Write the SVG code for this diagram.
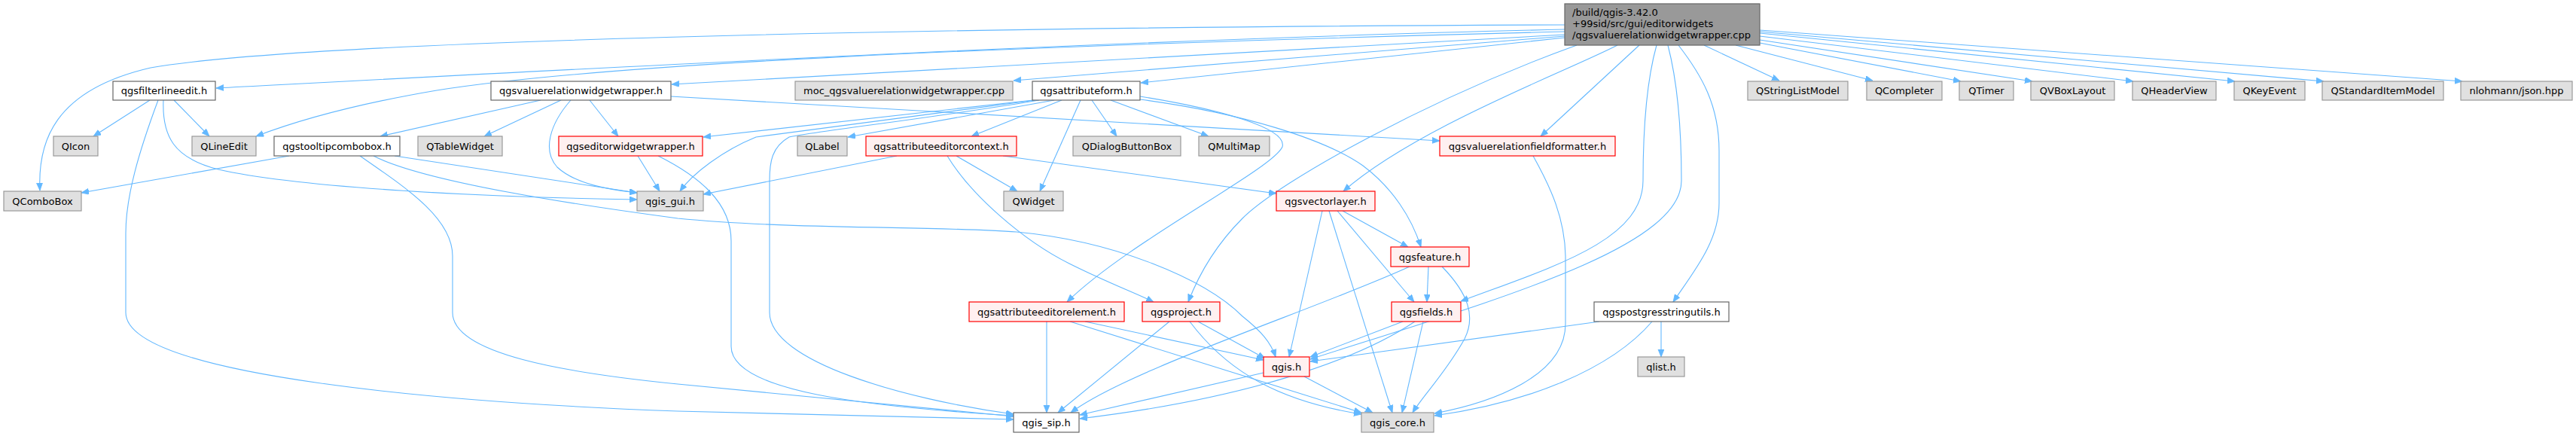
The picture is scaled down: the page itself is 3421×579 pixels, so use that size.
<svg xmlns="http://www.w3.org/2000/svg" width="3421" height="579" viewBox="0 0 3421 579">
<style>
rect{stroke-width:1.2}
.m rect{fill:#999999;stroke:#666666}
.w rect{fill:#ffffff;stroke:#666666}
.g rect{fill:#e0e0e0;stroke:#999999}
.r rect{fill:#fff0f0;stroke:#ff0000}
text{font-family:"DejaVu Sans","Liberation Sans",sans-serif;font-size:13px;fill:#000000;text-anchor:middle}
.m text{text-anchor:start}
#edges path{fill:none;stroke:#63b8ff;stroke-width:1.1;marker-end:url(#ah)}
</style>
<defs>
<marker id="ah" markerUnits="userSpaceOnUse" markerWidth="11" markerHeight="9" refX="10" refY="4" orient="auto">
<path d="M0,0 L10,4 L0,8 z" fill="#63b8ff" stroke="#63b8ff" stroke-width="0.8"/>
</marker>
</defs>
<rect width="3421" height="579" fill="#ffffff"/>
<g id="edges">
<path d="M2078,33 C1200,36 400,55 200,90 C70,120 50,190 53,253"/>
<path d="M2078,39 C1500,52 800,90 287,117"/>
<path d="M2078,42 C1300,62 800,85 580,120 C480,137 400,158 340,181"/>
<path d="M2078,46 L892,112"/>
<path d="M2078,48 L1346,107"/>
<path d="M2078,50 L1515,110"/>
<path d="M2263,60 L2363,107"/>
<path d="M2305,60 L2487,107"/>
<path d="M2337,57 L2604,108"/>
<path d="M2337,53 L2699,108"/>
<path d="M2337,48 L2833,108"/>
<path d="M2337,44 L2968,108"/>
<path d="M2337,42 L3086,108"/>
<path d="M2337,40 L3270,108"/>
<path d="M2177,60 L2046,181"/>
<path d="M2148,60 C2080,95 1880,170 1784,254"/>
<path d="M2094,60 C1900,130 1700,240 1650,290 C1610,330 1590,370 1578,401"/>
<path d="M2200,60 C2186,110 2182,170 2182,240 C2182,320 2060,355 1940,400"/>
<path d="M2215,60 C2228,110 2233,170 2233,240 C2233,330 1980,400 1740,477"/>
<path d="M2229,60 C2260,100 2283,140 2283,200 L2283,270 C2283,320 2250,360 2222,401"/>
<path d="M718,133 L505,181"/>
<path d="M745,133 L643,181"/>
<path d="M758,133 C730,165 720,200 740,222 C765,245 810,252 846,256"/>
<path d="M783,133 L821,181"/>
<path d="M891,128 L1912,187"/>
<path d="M199,133 L124,181"/>
<path d="M231,133 L278,181"/>
<path d="M217,133 C215,180 230,210 290,225 C400,250 650,262 846,265"/>
<path d="M210,133 C185,200 167,260 167,310 L167,415 C167,500 600,535 900,546 C1100,552 1250,555 1346,557"/>
<path d="M384,207 L108,256"/>
<path d="M524,207 L846,256"/>
<path d="M496,207 C560,240 750,270 900,290 C1050,305 1250,300 1350,308 C1480,320 1600,370 1650,420 C1675,440 1688,455 1694,474"/>
<path d="M478,207 C540,250 601,290 601,340 L601,415 C601,470 750,495 900,510 C1100,530 1250,545 1346,553"/>
<path d="M847,207 L876,254"/>
<path d="M874,207 C930,235 971,270 971,320 L971,460 C971,520 1150,540 1346,552"/>
<path d="M1372,133 L934,182"/>
<path d="M1375,133 C1250,150 1050,175 1004,182 C960,200 920,230 903,254"/>
<path d="M1380,133 C1250,155 1080,175 1048,182 C1025,195 1022,215 1022,240 L1022,415 C1022,480 1200,530 1346,550"/>
<path d="M1400,133 L1126,182"/>
<path d="M1410,133 L1290,181"/>
<path d="M1435,133 L1381,254"/>
<path d="M1450,133 L1483,181"/>
<path d="M1475,133 L1605,181"/>
<path d="M1514,128 C1620,145 1710,170 1703,195 C1690,225 1500,320 1417,401"/>
<path d="M1514,132 C1650,150 1760,185 1810,220 C1850,250 1875,290 1887,328"/>
<path d="M1191,207 L934,258"/>
<path d="M1258,207 C1290,260 1360,320 1420,350 C1470,375 1510,390 1532,401"/>
<path d="M1270,207 L1351,254"/>
<path d="M1332,207 L1695,257"/>
<path d="M1756,280 L1712,474"/>
<path d="M1765,280 L1849,548"/>
<path d="M1776,280 L1878,401"/>
<path d="M1783,280 L1870,328"/>
<path d="M1872,354 C1750,410 1500,490 1422,548"/>
<path d="M1897,354 L1895,401"/>
<path d="M1915,354 C1950,390 1960,420 1945,450 C1920,495 1890,525 1876,548"/>
<path d="M1863,427 L1740,474"/>
<path d="M1879,427 C1800,480 1650,530 1434,556"/>
<path d="M1890,427 L1862,548"/>
<path d="M2124,427 L1740,480"/>
<path d="M2206,427 L2206,474"/>
<path d="M2194,427 C2140,490 2030,535 1905,552"/>
<path d="M2036,207 C2060,250 2078,290 2079,340 L2079,430 C2079,500 1980,535 1905,549"/>
<path d="M1553,427 L1405,548"/>
<path d="M1580,427 C1620,480 1680,530 1808,550"/>
<path d="M1591,427 L1680,476"/>
<path d="M1390,427 L1390,548"/>
<path d="M1421,427 L1808,548"/>
<path d="M1441,427 L1678,478"/>
<path d="M1678,495 L1434,551"/>
<path d="M1732,500 L1823,548"/>
</g>
<g id="n_main" class="m"><rect x="2078" y="5" width="259" height="55"/><text x="2088" y="21">/build/qgis-3.42.0</text><text x="2088" y="36">+99sid/src/gui/editorwidgets</text><text x="2088" y="51">/qgsvaluerelationwidgetwrapper.cpp</text></g>
<g id="n_filterlineedit" class="w"><rect x="150" y="108" width="136" height="25"/><text x="218" y="125">qgsfilterlineedit.h</text></g>
<g id="n_vrww" class="w"><rect x="652" y="108" width="239" height="25"/><text x="771.5" y="125">qgsvaluerelationwidgetwrapper.h</text></g>
<g id="n_moc" class="g"><rect x="1056" y="108" width="289" height="25"/><text x="1200.5" y="125">moc_qgsvaluerelationwidgetwrapper.cpp</text></g>
<g id="n_attributeform" class="w"><rect x="1371" y="108" width="143" height="25"/><text x="1442.5" y="125">qgsattributeform.h</text></g>
<g id="n_qstringlistmodel" class="g"><rect x="2321" y="108" width="133" height="25"/><text x="2387.5" y="125">QStringListModel</text></g>
<g id="n_qcompleter" class="g"><rect x="2479" y="108" width="100" height="25"/><text x="2529" y="125">QCompleter</text></g>
<g id="n_qtimer" class="g"><rect x="2602" y="108" width="72" height="25"/><text x="2638" y="125">QTimer</text></g>
<g id="n_qvboxlayout" class="g"><rect x="2697" y="108" width="111" height="25"/><text x="2752.5" y="125">QVBoxLayout</text></g>
<g id="n_qheaderview" class="g"><rect x="2832" y="108" width="111" height="25"/><text x="2887.5" y="125">QHeaderView</text></g>
<g id="n_qkeyevent" class="g"><rect x="2967" y="108" width="94" height="25"/><text x="3014" y="125">QKeyEvent</text></g>
<g id="n_qstandarditemmodel" class="g"><rect x="3084" y="108" width="161" height="25"/><text x="3164.5" y="125">QStandardItemModel</text></g>
<g id="n_json" class="g"><rect x="3268" y="108" width="148" height="25"/><text x="3342" y="125">nlohmann/json.hpp</text></g>
<g id="n_qicon" class="g"><rect x="71" y="181" width="59" height="26"/><text x="100.5" y="198.5">QIcon</text></g>
<g id="n_qlineedit" class="g"><rect x="255" y="181" width="85" height="26"/><text x="297.5" y="198.5">QLineEdit</text></g>
<g id="n_tooltipcombobox" class="w"><rect x="364" y="181" width="167" height="26"/><text x="447.5" y="198.5">qgstooltipcombobox.h</text></g>
<g id="n_qtablewidget" class="g"><rect x="555" y="181" width="112" height="26"/><text x="611" y="198.5">QTableWidget</text></g>
<g id="n_editorwidgetwrapper" class="r"><rect x="742" y="181" width="191" height="26"/><text x="837.5" y="198.5">qgseditorwidgetwrapper.h</text></g>
<g id="n_qlabel" class="g"><rect x="1059" y="181" width="66" height="26"/><text x="1092" y="198.5">QLabel</text></g>
<g id="n_attributeeditorcontext" class="r"><rect x="1150" y="181" width="200" height="26"/><text x="1250" y="198.5">qgsattributeeditorcontext.h</text></g>
<g id="n_qdialogbuttonbox" class="g"><rect x="1425" y="181" width="143" height="26"/><text x="1496.5" y="198.5">QDialogButtonBox</text></g>
<g id="n_qmultimap" class="g"><rect x="1592" y="181" width="94" height="26"/><text x="1639" y="198.5">QMultiMap</text></g>
<g id="n_vrfieldformatter" class="r"><rect x="1912" y="181" width="233" height="26"/><text x="2028.5" y="198.5">qgsvaluerelationfieldformatter.h</text></g>
<g id="n_qcombobox" class="g"><rect x="5" y="254" width="103" height="26"/><text x="56.5" y="271.5">QComboBox</text></g>
<g id="n_qgis_gui" class="g"><rect x="846" y="254" width="88" height="26"/><text x="890" y="271.5">qgis_gui.h</text></g>
<g id="n_qwidget" class="g"><rect x="1333" y="254" width="79" height="26"/><text x="1372.5" y="271.5">QWidget</text></g>
<g id="n_vectorlayer" class="r"><rect x="1695" y="254" width="131" height="26"/><text x="1760.5" y="271.5">qgsvectorlayer.h</text></g>
<g id="n_feature" class="r"><rect x="1847" y="328" width="104" height="26"/><text x="1899" y="345.5">qgsfeature.h</text></g>
<g id="n_attributeeditorelement" class="r"><rect x="1287" y="401" width="206" height="26"/><text x="1390" y="418.5">qgsattributeeditorelement.h</text></g>
<g id="n_project" class="r"><rect x="1517" y="401" width="103" height="26"/><text x="1568.5" y="418.5">qgsproject.h</text></g>
<g id="n_fields" class="r"><rect x="1848" y="401" width="92" height="26"/><text x="1894" y="418.5">qgsfields.h</text></g>
<g id="n_postgresstringutils" class="w"><rect x="2117" y="401" width="179" height="26"/><text x="2206.5" y="418.5">qgspostgresstringutils.h</text></g>
<g id="n_qgis" class="r"><rect x="1678" y="474" width="61" height="26"/><text x="1708.5" y="491.5">qgis.h</text></g>
<g id="n_qlist" class="g"><rect x="2175" y="474" width="62" height="26"/><text x="2206" y="491.5">qlist.h</text></g>
<g id="n_qgis_sip" class="w"><rect x="1346" y="548" width="87" height="26"/><text x="1389.5" y="565.5">qgis_sip.h</text></g>
<g id="n_qgis_core" class="g"><rect x="1808" y="548" width="96" height="26"/><text x="1856" y="565.5">qgis_core.h</text></g>
</svg>
